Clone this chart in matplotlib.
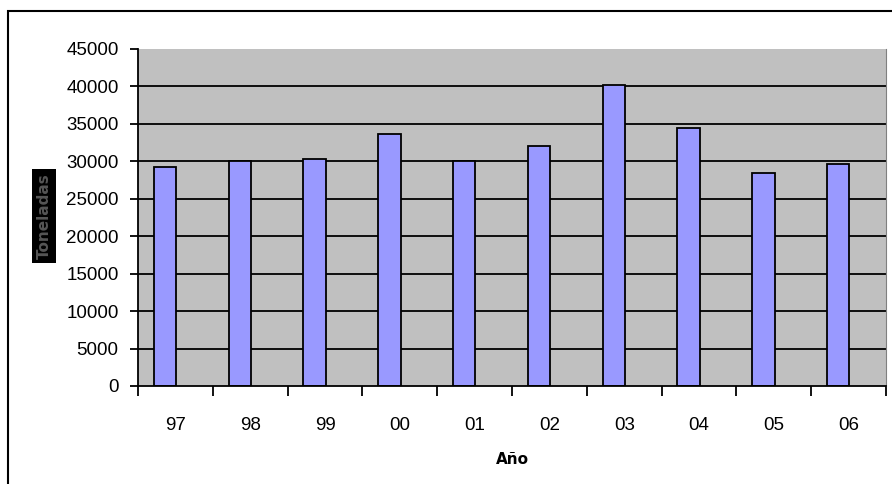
import numpy as np
import matplotlib.pyplot as plt
from matplotlib.patches import Rectangle

plt.rcParams['font.family'] = ['Liberation Sans', 'DejaVu Sans']

years = ["97", "98", "99", "00", "01", "02", "03", "04", "05", "06"]
toneladas = [29200, 30100, 30300, 33700, 30100, 32100, 40200, 34500, 28400, 29700]
yticks = [0, 5000, 10000, 15000, 20000, 25000, 30000, 35000, 40000, 45000]

fig = plt.figure(figsize=(8.92, 4.84), dpi=100)
ax = fig.add_axes([138/892, 1 - 386/484, 748/892, 337/484])
ax.set_facecolor('#C0C0C0')

x = np.arange(len(years))
ax.hlines(yticks[1:-1], -0.5, len(years) - 0.5, color='black', lw=1.3, zorder=1)
ax.bar(x - 0.14, toneladas, width=0.30, color='#9999FF', edgecolor='black', lw=1.3, zorder=2)

ax.set_xlim(-0.5, len(years) - 0.5)
ax.set_ylim(0, 45000)
ax.set_yticks(yticks)
ax.set_yticklabels([str(v) for v in yticks], fontsize=13.5)
ax.set_xticks(x)
ax.set_xticklabels(years, fontsize=13.5)
ax.set_xticks(np.arange(-0.5, len(years)), minor=True)
ax.tick_params(axis='x', which='major', length=0, pad=22)
ax.tick_params(axis='x', which='minor', length=7, width=1.3, direction='out')
ax.tick_params(axis='y', length=6, width=1.3, direction='out', pad=8)

ax.spines['top'].set_visible(False)
ax.spines['right'].set_color('#808080')
ax.spines['left'].set_linewidth(1.3)
ax.spines['bottom'].set_linewidth(1.3)

ax.set_xlabel("Año", fontsize=11, fontweight='bold', family='DejaVu Sans', labelpad=13)
fig.text(44/892, 1 - 216/484, "Toneladas", rotation=90, fontsize=11, fontweight='bold',
         family='DejaVu Sans', color='#555555', ha='center', va='center',
         bbox=dict(facecolor='black', edgecolor='none', pad=3))

fig.patches.append(Rectangle((8/892, -0.05), 1.1, (484 - 11)/484 + 0.05,
                             transform=fig.transFigure, fill=False,
                             edgecolor='black', lw=1.5))

fig.savefig('out.png', dpi=100)
